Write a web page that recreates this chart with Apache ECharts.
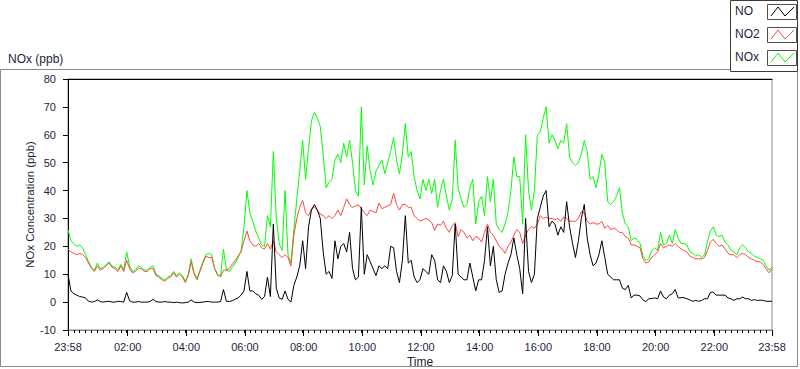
<!DOCTYPE html>
<html>
<head>
<meta charset="utf-8">
<script src="https://cdn.jsdelivr.net/npm/echarts@6/dist/echarts.min.js"></script>
<style>
html,body{margin:0;padding:0;background:#fff;}
#chart{width:800px;height:369px;}
</style>
</head>
<body>
<div id="chart"></div>
<script>
// Sampling: one value every 6 minutes, starting at 23:58 (minute 0) and ending at 23:58 next day (minute 1440)
const stepMinutes = 6;

const seriesNames = ['NO', 'NO2', 'NOx'];

const noValues = [
  10, 4, 3, 2.5, 2, 1.8, 1.5, 0.3, 0, 0.2, 0.8, 0.2, 0, 0.2, 0.3, 0, 0, 0.3, 0.2, 0, 3.5, 0.5, 0, 0, 0.2, 0, 0, 0, 0.2, 1, 0.2, 0, 0, 0.2, 0, 0, -0.2, 0, -0.2, -0.3, -0.2, 0, 0.8, 0, -0.2, -0.1, 0, 0.2,
  0.2, 0, 0, 0, 0.2, 4.5, 0.3, 0.2, 0.5, 1, 1.5, 2.5, 4, 11, 4, 4, 3, 2.5, 1, 2, 9, 2, 28, 5, 1.5, 1, 4, 1, 0, 6, 9, 13, 22, 12, 27, 33, 35, 33, 30, 18, 10, 11, 8.5, 22, 15.5, 20, 21, 18,
  25, 12, 8, 9, 34, 10, 17, 14.5, 12, 9.5, 13, 12, 13, 12, 20, 19.5, 11, 7, 15, 31, 14, 15, 9, 7, 8, 12, 11, 10, 17, 15, 8, 7, 13, 11, 7, 9.5, 28, 10, 9, 8, 8, 14, 9, 4, 8, 8, 15, 27,
  13, 20, 8, 3.5, 4, 10, 14, 17, 23, 17, 12, 3, 30, 11, 7, 10, 30, 34, 38, 40, 27, 29, 28, 24, 27, 25, 36, 27, 21, 16, 22, 30, 35, 23, 17, 13, 14, 17, 22, 16, 10, 9, 8, 8, 8, 5, 4.5, 6,
  1.5, 2.5, 2.5, 2.2, 0.8, 0.2, 1.2, 1.3, 1.5, 1.2, 4, 1.8, 1.2, 2.5, 3, 4.5, 1.5, 1.6, 1.6, 1.2, 0.8, 0.3, 0.6, 0.3, 0.6, 1.2, 1.2, 3.5, 3.6, 2.5, 2.5, 2.5, 2.5, 1.5, 1.2, 0.6, 1.2, 1.2, 1.8, 1.2, 1.2, 0.6, 0.9, 0.6, 0.7, 0.6, 0.3, 0.3, 0.3
];

const no2Values = [
  19, 18, 17.5, 17, 17.5, 17, 16, 14, 12, 11, 13, 11.5, 12, 13, 14, 12.5, 12, 11, 13, 11, 15, 12, 10.5, 11, 12, 12, 11, 11, 12, 12, 9.5, 9, 8, 7.5, 8.5, 9, 10.5, 9, 10, 9, 7, 9.5, 14.5, 10, 8, 11, 14, 16.5,
  16, 16, 12, 10, 9, 11.5, 11.5, 12, 13.5, 15, 16.5, 18, 22, 25.5, 22, 20.5, 20, 21, 19.5, 19, 21, 19, 22, 18, 17, 16, 17, 16, 13, 24, 30, 34, 36.5, 32, 31, 33.5, 34, 33, 31.5, 31, 30, 31, 30, 31, 33, 31, 34, 37,
  35, 34, 34.5, 35, 33.5, 32, 31, 33, 32.5, 32, 35.5, 33.5, 34, 34.5, 35, 39, 35, 33, 35, 35, 34, 34, 31, 30, 29, 29.5, 30, 29.5, 28.5, 25.7, 28, 27.5, 29, 26.5, 25, 27.5, 28.5, 23.5, 26, 25, 23, 24, 22, 23.5, 23, 21.5, 25, 28,
  25, 24, 22, 20, 19, 17.5, 20, 21.5, 24, 26, 25, 21, 24, 26, 27, 26.5, 28, 31, 30, 30.5, 30, 30, 29.5, 30, 29, 30.5, 30, 29, 29, 29, 30, 32.5, 32, 29, 28, 28.5, 28, 28, 29, 26.5, 27.5, 26, 26.5, 26, 25, 25, 23.5, 23,
  20.5, 20.5, 20, 19.5, 15.5, 14, 14.5, 16, 17, 18, 21, 19.5, 20, 20.5, 20, 21, 20, 19, 18.5, 18, 16.5, 16, 15.5, 15.5, 15.5, 16, 18.5, 21.5, 22.5, 21, 20, 20.5, 19, 17.5, 17, 17, 16, 17, 17.5, 17, 16, 15.5, 15, 14.5, 14.5, 13.5, 12, 10.5, 12
];

const noxValues = [
  26, 22, 21, 20, 20.5, 19.5, 17, 14.5, 12.5, 11.5, 14, 12, 12.5, 13.5, 14.5, 13, 12.5, 11.5, 13.5, 11.5, 18, 13, 11, 11.5, 13, 12.5, 11.5, 11.5, 12.5, 13, 10, 9.5, 8.5, 8, 9, 9.5, 11, 9.5, 10.5, 9.5, 7.5, 10, 15.5, 10.5, 8.5, 11.5, 14.5, 17,
  17.5, 17, 12, 9.5, 9.5, 19, 11.5, 11, 12.5, 14, 16, 18.5, 27, 40, 32, 29, 25.5, 23, 20.5, 20, 31, 27, 54, 30, 21, 18.5, 40, 17, 14, 26, 37, 47, 58, 44, 55, 65, 68, 66, 63, 53, 41, 43, 44, 51, 53, 50, 57, 52,
  58, 50, 40, 38, 70, 42, 56, 47, 42, 47, 49, 51, 46, 50, 54, 59, 51, 46, 53, 64, 52, 54, 45, 40, 37, 44, 40, 44, 39, 44, 34, 40, 44, 38, 33, 37, 58, 41, 37, 34, 35, 41, 44, 28, 36, 38, 31, 45,
  36, 44, 28, 26, 25, 28, 32, 40, 52, 45, 45, 28, 60, 40, 33, 40, 60, 61, 66, 70, 57, 60, 58, 55, 58, 57, 64, 52, 50, 49, 50, 53, 58, 54, 44, 45, 41, 46, 53, 50, 36, 35, 36, 38, 41, 32, 28, 27,
  22, 23, 22.5, 21, 16.5, 15, 15.5, 18.5, 19.5, 18.5, 25, 20.5, 21, 24, 21, 26, 23, 21, 21, 20.5, 18, 17.5, 16.5, 17, 16, 17, 21.5, 25.5, 27, 24, 23.5, 24, 21.5, 20.5, 18.5, 18, 17, 19.5, 20.5, 19.5, 18, 17.5, 16.5, 16, 15.5, 15, 13, 11.5, 12.5
];

// X tick positions (minutes after 23:58) and their labels
const tickMinutes = [0, 122, 242, 362, 482, 602, 722, 842, 962, 1082, 1202, 1322, 1440];
const tickLabels = ['23:58', '02:00', '04:00', '06:00', '08:00', '10:00', '12:00', '14:00', '16:00', '18:00', '20:00', '22:00', '23:58'];
const minorTickStep = 12;

const yMin = -10, yMax = 80, yInterval = 10;

const colors = { NO: '#000000', NO2: '#ff4646', NOx: '#00ff00' };
const FONT = '"Liberation Sans", Arial, sans-serif';
const TEXT_COLOR = '#1e1e3a';

function pairs(arr) { return arr.map((v, i) => [i * stepMinutes, v]); }

const chart = echarts.init(document.getElementById('chart'), null, { renderer: 'svg' });

function zig(x, y) {
  return [[x + 3, y + 12], [x + 10, y + 3], [x + 17, y + 12], [x + 26, y + 3]];
}

const legendItems = [
  { name: 'NO', y: 4 },
  { name: 'NO2', y: 27 },
  { name: 'NOx', y: 50 }
];

const graphics = [
  { type: 'rect', shape: { x: 0.5, y: 69.5, width: 797, height: 297 }, style: { fill: 'none', stroke: '#8a8a8a', lineWidth: 1 }, z: 0, silent: true },
  { type: 'rect', shape: { x: 730.5, y: 0.5, width: 67, height: 71 }, style: { fill: '#ffffff', stroke: '#3a3a3a', lineWidth: 1 }, z: 10, silent: true }
];
legendItems.forEach(it => {
  graphics.push({ type: 'text', left: 735, top: it.y + 1, style: { text: it.name, font: '12px ' + FONT, fill: TEXT_COLOR }, z: 11 });
  graphics.push({ type: 'rect', shape: { x: 767.5, y: it.y + 0.5, width: 29, height: 15 }, style: { fill: '#ffffff', stroke: '#505050', lineWidth: 1 }, z: 11 });
  graphics.push({ type: 'polyline', shape: { points: zig(768, it.y) }, style: { stroke: colors[it.name], fill: 'none', lineWidth: 1 }, z: 12 });
});

const option = {
  animation: false,
  backgroundColor: '#ffffff',
  textStyle: { fontFamily: FONT },
  title: {
    text: 'NOx (ppb)', left: 3, top: 48,
    textStyle: { fontSize: 12, fontWeight: 'normal', color: TEXT_COLOR, fontFamily: FONT }
  },
  legend: { show: false, data: seriesNames },
  grid: {
    left: 68, right: 28, top: 79, bottom: 39, show: true, borderColor: '#8a8a8a', borderWidth: 1, backgroundColor: '#ffffff',
    containLabel: false, outerBoundsMode: 'none'
  },
  xAxis: [
    {
      type: 'value', min: 0, max: 1440, position: 'bottom',
      name: 'Time', nameLocation: 'middle', nameGap: 26, nameMoveOverlap: false,
      nameTextStyle: { fontSize: 12, color: TEXT_COLOR, fontFamily: FONT },
      axisLine: { show: true, onZero: false, lineStyle: { color: '#8a8a8a' } },
      splitLine: { show: false },
      axisTick: { show: true, customValues: tickMinutes, length: 6, lineStyle: { color: '#000' } },
      axisLabel: {
        customValues: tickMinutes, margin: 11, fontSize: 11, color: TEXT_COLOR, fontFamily: FONT,
        formatter: v => { const k = tickMinutes.indexOf(Math.round(v)); return k >= 0 ? tickLabels[k] : ''; }
      }
    },
    {
      type: 'value', min: 0, max: 1440, interval: minorTickStep, position: 'bottom',
      axisLine: { show: false, onZero: false }, splitLine: { show: false },
      axisTick: { show: true, length: 3, lineStyle: { color: '#000' } },
      axisLabel: { show: false }
    },
    {
      type: 'value', min: 0, max: 1440, position: 'top',
      axisLine: { show: true, onZero: false, lineStyle: { color: '#000', width: 1 } },
      axisTick: { show: false }, axisLabel: { show: false }, splitLine: { show: false }
    }
  ],
  yAxis: {
    type: 'value', min: yMin, max: yMax, interval: yInterval,
    name: 'NOx Concentration (ppb)', nameLocation: 'middle', nameRotate: 90, nameGap: 33, nameMoveOverlap: false,
    nameTextStyle: { fontSize: 11.4, color: TEXT_COLOR, fontFamily: FONT },
    axisLine: { show: true, onZero: false, lineStyle: { color: '#000', width: 1 } },
    axisTick: { show: true, length: 5, lineStyle: { color: '#000' } },
    axisLabel: { margin: 12, fontSize: 11, color: TEXT_COLOR, fontFamily: FONT },
    splitLine: { show: false }
  },
  series: [
    { name: 'NOx', type: 'line', xAxisIndex: 0, data: pairs(noxValues), symbol: 'none', lineStyle: { color: colors.NOx, width: 1 }, itemStyle: { color: colors.NOx }, z: 2 },
    { name: 'NO2', type: 'line', xAxisIndex: 0, data: pairs(no2Values), symbol: 'none', lineStyle: { color: colors.NO2, width: 1 }, itemStyle: { color: colors.NO2 }, z: 3 },
    { name: 'NO', type: 'line', xAxisIndex: 0, data: pairs(noValues), symbol: 'none', lineStyle: { color: colors.NO, width: 1 }, itemStyle: { color: colors.NO }, z: 4 }
  ],
  graphic: graphics
};
chart.setOption(option);
</script>
</body>
</html>
